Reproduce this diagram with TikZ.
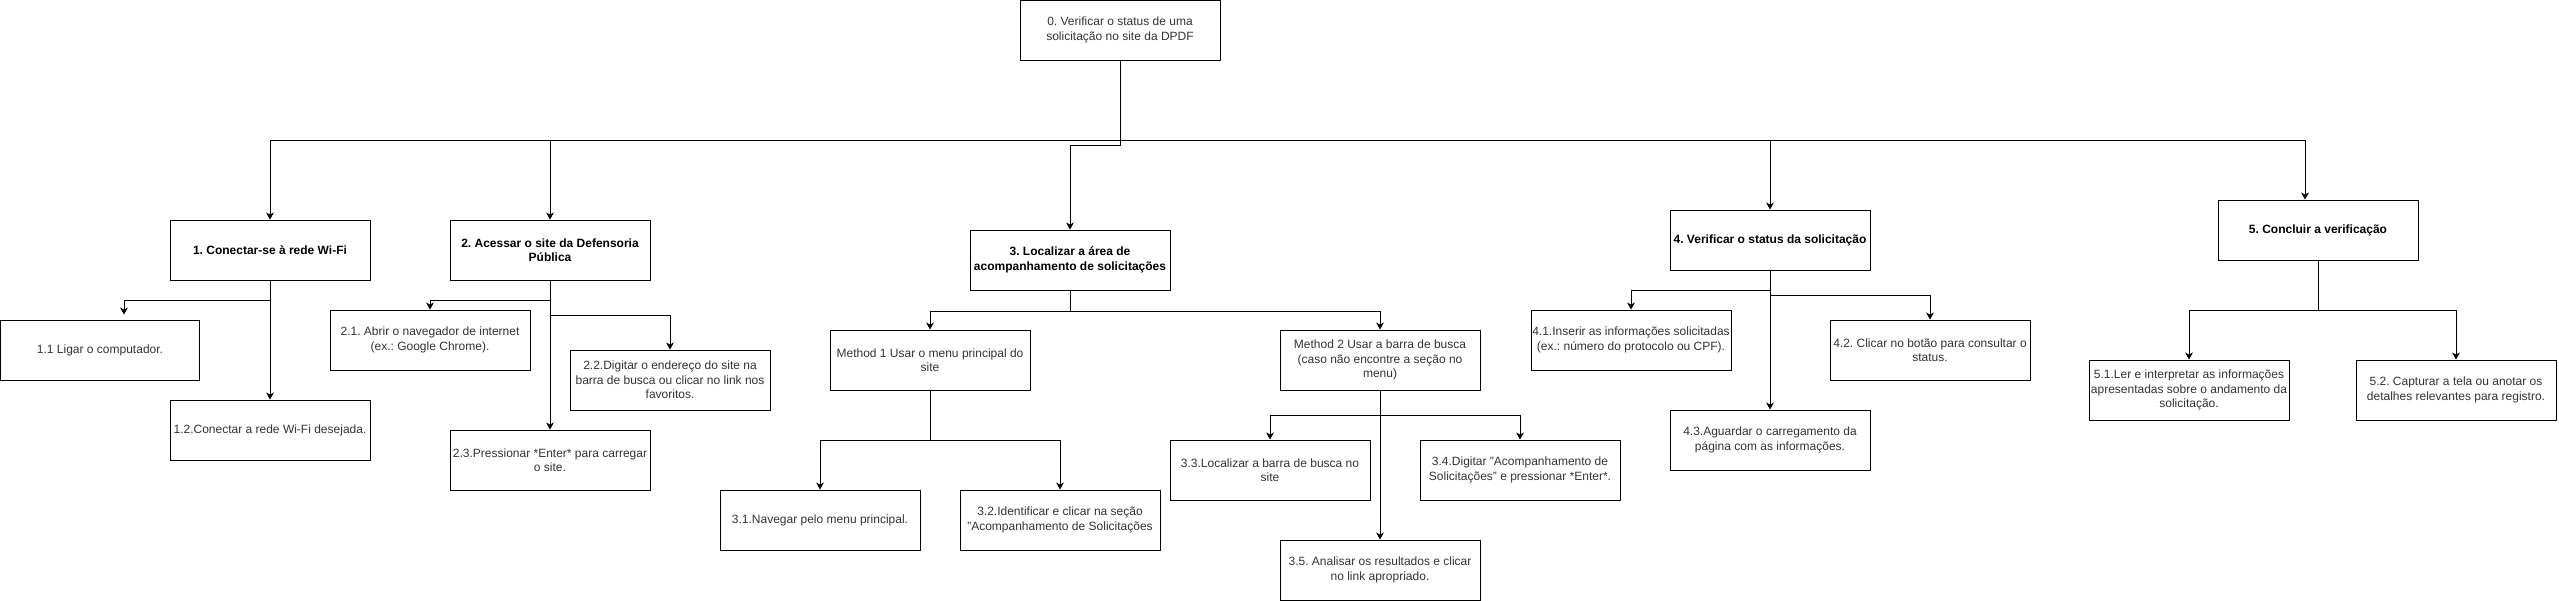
\documentclass[tikz,border=0pt]{standalone}
\usepackage{fontspec}
\setmainfont{Liberation Sans}
\usetikzlibrary{arrows.meta}
\definecolor{txtgray}{HTML}{333333}
\frenchspacing
\tikzset{
  stepbox/.style={draw, line width=0.55pt, minimum width=4cm, minimum height=1.2cm,
    align=center, inner sep=0pt, text=txtgray, font=\fontsize{6.83}{8.2}\selectfont},
  titlebox/.style={stepbox, text=black, font=\fontsize{6.83}{8.2}\selectfont\bfseries},
  arr/.style={-{Stealth[length=4pt,width=4.4pt,inset=1.2pt]}, line width=0.55pt},
  plain/.style={line width=0.55pt}
}
\begin{document}
\begin{tikzpicture}[x=0.02cm, y=-0.02cm]
            \useasboundingbox (0,0) rectangle (2559,601);
            \node[stepbox] (b0) at (1120,30) {0. Verificar o status de uma\\solicitação no site da DPDF};
            \node[titlebox] (b1) at (270,250) {1. Conectar-se à rede Wi-Fi};
            \node[stepbox] (b11) at (100,350) {1.1 Ligar o computador.};
            \node[stepbox] (b12) at (270,430) {1.2.Conectar a rede Wi-Fi desejada.};
            \node[titlebox] (b2) at (550,250) {2. Acessar o site da Defensoria\\Pública};
            \node[stepbox] (b21) at (430,340) {2.1. Abrir o navegador de internet\\(ex.: Google Chrome).};
            \node[stepbox] (b22) at (670,380) {2.2.Digitar o endereço do site na\\barra de busca ou clicar no link nos\\favoritos.};
            \node[stepbox] (b23) at (550,460) {2.3.Pressionar *Enter* para carregar\\o site.};
            \node[titlebox] (b3) at (1070,260) {3. Localizar a área de\\acompanhamento de solicitações};
            \node[stepbox] (m1) at (930,360) {Method 1 Usar o menu principal do\\site};
            \node[stepbox] (m2) at (1380,360) {Method 2 Usar a barra de busca\\(caso não encontre a seção no\\menu)};
            \node[stepbox] (b31) at (820,520) {3.1.Navegar pelo menu principal.};
            \node[stepbox] (b32) at (1060,520) {3.2.Identificar e clicar na seção\\"Acompanhamento de Solicitações};
            \node[stepbox] (b33) at (1270,470) {3.3.Localizar a barra de busca no\\site};
            \node[stepbox] (b34) at (1520,470) {3.4.Digitar "Acompanhamento de\\Solicitações" e pressionar *Enter*.};
            \node[stepbox] (b35) at (1380,570) {3.5. Analisar os resultados e clicar\\no link apropriado.};
            \node[titlebox] (b4) at (1770,240) {4. Verificar o status da solicitação};
            \node[stepbox] (b41) at (1631,340) {4.1.Inserir as informações solicitadas\\(ex.: número do protocolo ou CPF).};
            \node[stepbox] (b42) at (1930,350) {4.2. Clicar no botão para consultar o\\status.};
            \node[stepbox] (b43) at (1770,440) {4.3.Aguardar o carregamento da\\página com as informações.};
            \node[titlebox] (b5) at (2318,230) {5. Concluir a verificação};
            \node[stepbox] (b51) at (2189,390) {5.1.Ler e interpretar as informações\\apresentadas sobre o andamento da\\solicitação.};
            \node[stepbox] (b52) at (2456,390) {5.2. Capturar a tela ou anotar os\\detalhes relevantes para registro.};
            \draw[arr] (b0.south) -- ++(0,80) -| (b1.north);
            \draw[arr] (b0.south) -- ++(0,80) -| (b2.north);
            \draw[arr] (b0.south) -- ++(0,85) -| (b3.north);
            \draw[arr] (b0.south) -- ++(0,80) -| (b4.north);
            \draw[arr] (b0.south) -- ++(0,80) -| ([xshift=-0.26cm]b5.north);
            \draw[arr] (b1.south) -- ++(0,20) -| ([xshift=0.48cm,yshift=0.1cm]b11.north);
            \draw[arr] (b1.south) -- (b12.north);
            \draw[arr] (b2.south) -- ++(0,20) -| (b21.north);
            \draw[arr] (b2.south) -- ++(0,35) -| (b22.north);
            \draw[arr] (b2.south) -- (b23.north);
            \draw[arr] (b3.south) -- ++(0,21) -| (m1.north);
            \draw[arr] (b3.south) -- ++(0,21) -| (m2.north);
            \draw[plain] (m1.south) -- ++(0,50) coordinate (m1fork);
            \draw[arr] (m1fork) -| (b31.north);
            \draw[arr] (m1fork) -| (b32.north);
            \draw[arr] (m2.south) -- ++(0,25) -| (b33.north);
            \draw[arr] (m2.south) -- ++(0,25) -| (b34.north);
            \draw[arr] (m2.south) -- (b35.north);
            \draw[arr] (b4.south) -- ++(0,20) -| (b41.north);
            \draw[arr] (b4.south) -- ++(0,25) -| (b42.north);
            \draw[arr] (b4.south) -- (b43.north);
            \draw[arr] (b5.south) -- ++(0,50) -| (b51.north);
            \draw[arr] (b5.south) -- ++(0,50) -| (b52.north);
        \end{tikzpicture}
\end{document}
